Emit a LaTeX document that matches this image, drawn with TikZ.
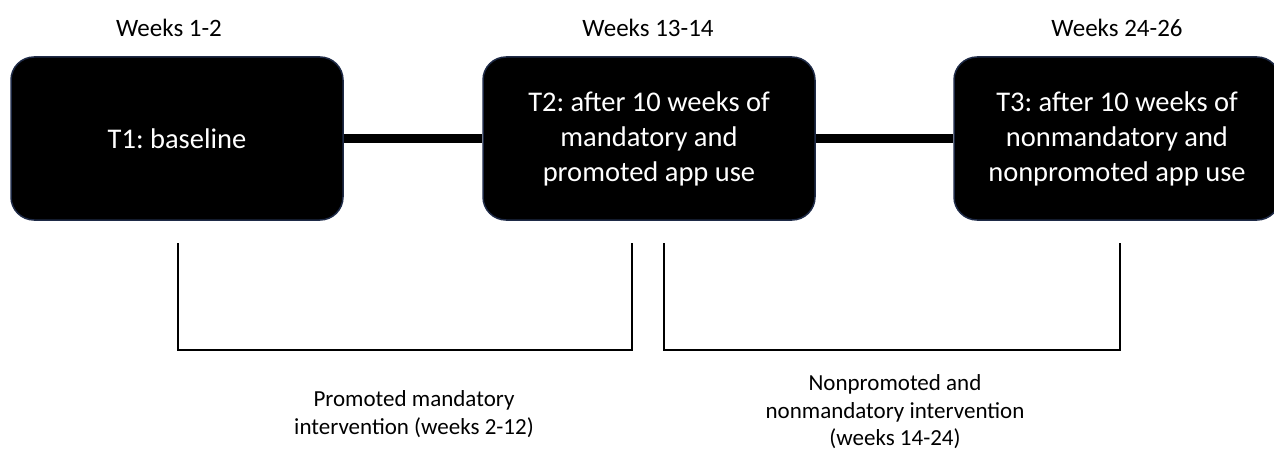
\documentclass[tikz,border=0pt]{standalone}
\usepackage{fontspec}
\setmainfont{Carlito}
\usetikzlibrary{positioning,calc}
\definecolor{boxedge}{RGB}{30,42,70}
\frenchspacing
\tikzset{
  phasebox/.style={rectangle, rounded corners=23pt, fill=black, draw=boxedge, line width=1.5pt,
    minimum width=332pt, minimum height=163pt, text=white, align=center,
    font=\fontsize{28.5}{35}\selectfont, inner sep=0pt},
  weeklabel/.style={inner sep=0pt, font=\fontsize{25}{30}\selectfont},
  spanlabel/.style={inner sep=0pt, align=center, font=\fontsize{23}{27.5}\selectfont},
  bracket/.style={line width=2pt, line cap=rect}
}

\begin{document}
\begin{tikzpicture}[x=1pt, y=1pt]
\useasboundingbox (0,0) rectangle (1274,451);
\clip (0,0) rectangle (1274,451);
% measurement points
\node[phasebox] (T1) at (177,312.5) {T1: baseline};
\node[phasebox] (T2) at (649,312.5) {T2: after 10 weeks of\\mandatory and\\promoted app use};
\node[phasebox, minimum width=326pt] (T3) at (1117,312.5) {T3: after 10 weeks of\\nonmandatory and\\nonpromoted app use};
\node[weeklabel] (W1) at (169,423) {Weeks 1-2};
\node[weeklabel] (W2) at (648,423) {Weeks 13-14};
\node[weeklabel] (W3) at (1117,423) {Weeks 24-26};
\draw[line width=9pt] (T1) -- (T2);
\draw[line width=9pt] (T2) -- (T3);
% intervention brackets
\coordinate (P1a) at (178,207);
\coordinate (P1b) at (632,101);
\coordinate (P1c) at (632,207);
\coordinate (P2a) at (664,207);
\coordinate (P2b) at (1120,101);
\coordinate (P2c) at (1120,207);
\draw[bracket] (P1a) |- (P1b) -- (P1c);
\draw[bracket] (P2a) |- (P2b) -- (P2c);
\node[spanlabel] (I1) at (414,37) {Promoted mandatory\\intervention (weeks 2-12)};
\node[spanlabel] (I2) at (895,39) {Nonpromoted and\\nonmandatory intervention\\(weeks 14-24)};
\end{tikzpicture}
\end{document}
